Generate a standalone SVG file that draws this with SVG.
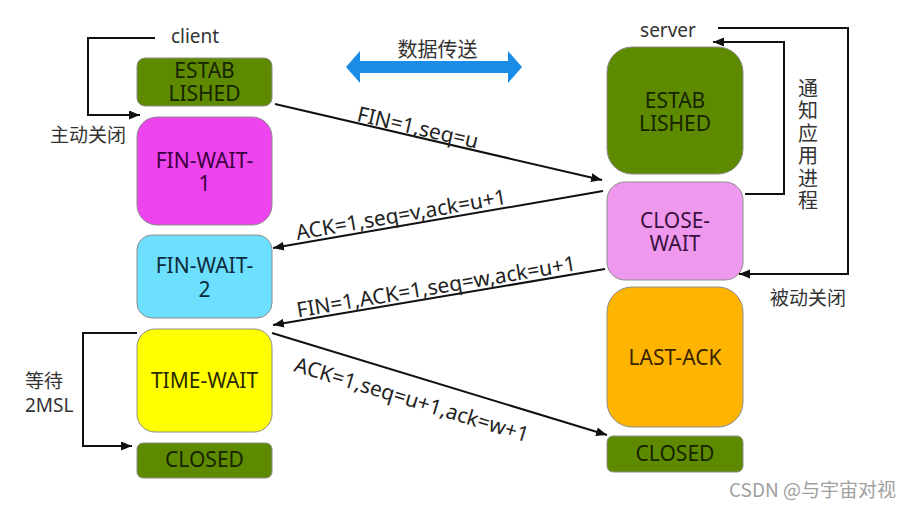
<svg xmlns="http://www.w3.org/2000/svg" width="915" height="509" viewBox="0 0 915 509">
<style>
  .node { stroke: #8c8c8c; stroke-width: 1; }
  .nt { font-family: "Noto Sans", "Open Sans", sans-serif; font-size: 21px; text-anchor: middle; }
  .lbl { font-family: "Noto Sans", "Open Sans", sans-serif; font-size: 21px; fill: #222; text-anchor: middle; dominant-baseline: central; }
  .cjk { font-family: "Noto Sans CJK SC", "Noto Sans", sans-serif; font-size: 19px; fill: #333; }
  .conn { fill: none; stroke: #111; stroke-width: 2; }
</style>
<defs>
  <marker id="ah" markerUnits="userSpaceOnUse" markerWidth="12" markerHeight="10" refX="11" refY="4.5" orient="auto">
    <path d="M0,0 L11,4.5 L0,9 z" fill="#111"/>
  </marker>
</defs>
<rect width="915" height="509" fill="#ffffff"/>

<text x="195" y="43" class="nt" style="font-size:19px" fill="#333">client</text>
<text x="668" y="37" class="nt" style="font-size:19px" fill="#333">server</text>

<g id="client-established">
  <rect class="node" x="137" y="58" width="135" height="48" rx="8" fill="#5e8a00"/>
  <text class="nt" x="204.5" y="78" fill="#172400">ESTAB<tspan x="204.5" dy="23">LISHED</tspan></text>
</g>
<g id="fin-wait-1">
  <rect class="node" x="137" y="117" width="135" height="108" rx="20" fill="#ee44ee"/>
  <text class="nt" x="204.5" y="168" fill="#3a0040">FIN-WAIT-<tspan x="204.5" dy="23">1</tspan></text>
</g>
<g id="fin-wait-2">
  <rect class="node" x="137" y="235" width="135" height="83" rx="15" fill="#6ee0ff"/>
  <text class="nt" x="204.5" y="273" fill="#0c2a3a">FIN-WAIT-<tspan x="204.5" dy="24">2</tspan></text>
</g>
<g id="time-wait">
  <rect class="node" x="137" y="329" width="135" height="103" rx="18" fill="#ffff00"/>
  <text class="nt" x="204.5" y="388" fill="#2a2a00">TIME-WAIT</text>
</g>
<g id="client-closed">
  <rect class="node" x="137" y="443" width="135" height="35" rx="6" fill="#5e8a00"/>
  <text class="nt" x="204.5" y="467" fill="#172400">CLOSED</text>
</g>

<g id="server-established">
  <rect class="node" x="607" y="47" width="136" height="127" rx="25" fill="#5e8a00"/>
  <text class="nt" x="675" y="108" fill="#172400">ESTAB<tspan x="675" dy="23">LISHED</tspan></text>
</g>
<g id="close-wait">
  <rect class="node" x="607" y="182" width="136" height="98" rx="18" fill="#ee99ee"/>
  <text class="nt" x="675" y="228" fill="#3a1040">CLOSE-<tspan x="675" dy="23">WAIT</tspan></text>
</g>
<g id="last-ack">
  <rect class="node" x="607" y="287" width="136" height="140" rx="25" fill="#ffb400"/>
  <text class="nt" x="675" y="365" fill="#3a2400">LAST-ACK</text>
</g>
<g id="server-closed">
  <rect class="node" x="607" y="436" width="136" height="36" rx="6" fill="#5e8a00"/>
  <text class="nt" x="675" y="461" fill="#172400">CLOSED</text>
</g>

<g id="data-transfer">
  <polygon points="346,67 360,51 360,61 508,61 508,51 522,67 508,83 508,73 360,73 360,83" fill="#1a8be6"/>
  <text x="437.5" y="57" class="cjk" text-anchor="middle" style="font-size:20px">数据传送</text>
</g>

<g id="connectors">
  <path class="conn" d="M155,38 H88 V115 H140" marker-end="url(#ah)"/>
  <path class="conn" d="M137,333 H83 V446 H132" marker-end="url(#ah)"/>
  <path class="conn" d="M718,28 H848 V274 H739" marker-end="url(#ah)"/>
  <path class="conn" d="M745,194 H784 V42 H713" marker-end="url(#ah)"/>
  <line class="conn" x1="275" y1="104" x2="602" y2="180" marker-end="url(#ah)"/>
  <line class="conn" x1="603" y1="191" x2="273" y2="248" marker-end="url(#ah)"/>
  <line class="conn" x1="605" y1="269" x2="273" y2="325" marker-end="url(#ah)"/>
  <line class="conn" x1="272" y1="333" x2="607" y2="435" marker-end="url(#ah)"/>
</g>

<g id="labels">
  <text class="cjk" x="50" y="142">主动关闭</text>
  <text class="cjk" x="770" y="305">被动关闭</text>
  <text class="cjk" x="25" y="388">等待<tspan x="25" dy="24" style="font-family:'Noto Sans',sans-serif">2MSL</tspan></text>
  <text class="cjk" x="808" y="78" style="font-size:20px;writing-mode:vertical-rl;letter-spacing:2.5px">通知应用进程</text>
  <text class="lbl" transform="translate(418,127) rotate(13.1)">FIN=1,seq=u</text>
  <text class="lbl" transform="translate(401,214) rotate(-9.8)">ACK=1,seq=v,ack=u+1</text>
  <text class="lbl" transform="translate(436,286) rotate(-9.6)">FIN=1,ACK=1,seq=w,ack=u+1</text>
  <text class="lbl" transform="translate(412,399) rotate(17)">ACK=1,seq=u+1,ack=w+1</text>
  <text x="729" y="497" style="font-family:'Noto Sans CJK SC','Noto Sans',sans-serif;font-size:19px" fill="#a0a0a0">CSDN @与宇宙对视</text>
</g>
</svg>
